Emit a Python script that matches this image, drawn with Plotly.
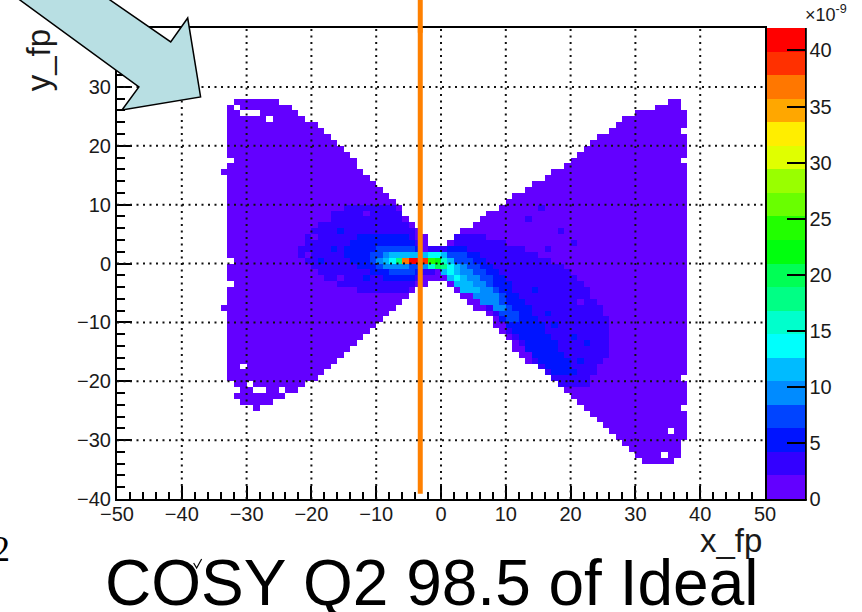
import numpy as np
import plotly.graph_objects as go

# ---------------------------------------------------------------------------
# Histogram definition: 1 x 1 bins, x_fp in [-50, 50), y_fp in [-40, 40)
# bin contents are given in units of 1e-9
# ---------------------------------------------------------------------------
X_MIN, X_MAX = -50, 50
Y_MIN, Y_MAX = -40, 40
Z_MAX = 42.0

# filled columns: lower x edge of the bin, lowest filled y edge, upper y edge
COL_X = list(range(-33, 38))
COL_BOT = [-20, -23, -24, -24, -25, -24, -24, -23, -23, -22, -22, -21, -20, -20, -19,
           -18, -17, -16, -15, -14, -13, -12, -11, -10, -9, -8, -7, -6, -5, -4,
           -4, -3, -3, -3, -4, -5, -6, -7, -8, -8, -9, -11, -12, -13, -15, -16, -17,
           -17, -18, -19, -20, -21, -22, -23, -24, -25, -26, -27, -28, -29, -30, -31,
           -32, -33, -34, -34, -34, -34, -34, -33, -30]
COL_TOP = [27, 28, 28, 28, 28, 28, 28, 28, 27, 27, 26, 25, 24, 24, 23,
           22, 21, 20, 19, 18, 16, 15, 14, 13, 12, 11, 10, 8, 7, 6,
           5, 3, 3, 3, 4, 5, 6, 6, 7, 8, 9, 9, 10, 11, 12, 12, 13,
           14, 14, 15, 16, 16, 17, 18, 19, 20, 21, 22, 22, 23, 24, 25,
           25, 26, 26, 26, 27, 27, 28, 28, 26]

BACKGROUND = 1.0
PROTRUSIONS = [(-34, 15), (-34, -8)]
HOLES = [(-32, 26), (-31, 25), (-30, 25), (-29, 25), (-27, 24), (-33, 17), (-33, 0),
         (-33, -4), (-31, -18), (-30, -21), (-29, -22), (-28, -22), (-25, -22),
         (-32, -22), (35, -29), (37, 17), (37, 22), (37, -20), (37, -25), (34, -33)]

# contents levels and the row spans (y, first x, last x) that carry them
LEVEL_1, LEVEL_2, LEVEL_3, LEVEL_4, LEVEL_5 = 3.2, 5.3, 7.4, 9.5, 11.6
SPANS_1 = [(9, -15, -8), (8, -17, -7), (7, -18, -7), (6, -19, -6), (5, -20, -5),
           (4, -21, -5), (3, -21, -4), (2, -22, -4), (1, -22, -4), (0, -21, -4),
           (-1, -20, -4), (-2, -19, -4), (-3, -18, -4), (-4, -16, -5), (-5, -13, -6),
           (2, -2, 0), (-2, -3, -2),
           (4, 2, 6), (3, 2, 9), (2, 2, 12), (1, 3, 14), (0, 3, 16), (-1, 3, 18),
           (-2, 3, 19), (-3, 3, 20), (-4, 4, 21), (-5, 5, 22), (-6, 5, 22),
           (-7, 6, 23), (-8, 7, 24), (-9, 8, 24), (-10, 9, 25), (-11, 10, 25),
           (-12, 10, 25), (-13, 11, 25), (-14, 12, 25), (-15, 13, 25), (-16, 14, 25),
           (-17, 14, 24), (-18, 15, 24), (-19, 16, 23), (-20, 17, 22), (-21, 18, 22)]
SPANS_2 = [(4, -13, -6), (3, -14, -5), (2, -15, -4), (1, -15, -4), (0, -14, -4),
           (-1, -13, -4), (-2, -11, -4), (-3, -9, -5),
           (2, 1, 3), (1, 2, 5), (0, 2, 6), (-1, 3, 7), (-2, 4, 8), (-3, 4, 9),
           (-4, 5, 10), (-5, 6, 10), (-6, 6, 11), (-7, 7, 12), (-8, 8, 13),
           (-9, 9, 13), (-10, 9, 14), (-11, 10, 15), (-12, 11, 15), (-13, 12, 16),
           (-14, 13, 17), (-15, 13, 17), (-16, 14, 18), (-17, 15, 19), (-18, 16, 19),
           (-19, 17, 20)]
SPANS_3 = [(2, -10, -5), (1, -11, -4), (0, -11, -4), (-1, -10, -4), (-2, -8, -5),
           (1, 1, 3), (0, 1, 4), (-1, 1, 5), (-2, 2, 6), (-3, 3, 7), (-4, 4, 7),
           (-5, 5, 8), (-6, 6, 9), (-7, 7, 9), (-8, 8, 10), (-9, 9, 11), (-10, 10, 11)]
SPANS_4 = [(1, -9, -5), (0, -10, -5), (-1, -9, -6),
           (-1, 1, 3), (-2, 1, 4), (-3, 2, 5), (-4, 3, 6), (-5, 4, 7), (-6, 5, 8),
           (-7, 6, 8), (-8, 8, 9)]
SPANS_5 = [(1, -8, -3), (0, -9, -8),
           (-2, 0, 2), (-3, 1, 3), (-4, 2, 4), (-5, 3, 5)]

# individual bins: (x, y, content)
SPECKLES = [(-18, 7, 1.0), (-20, 4, 1.0), (-16, -3, 1.0), (-12, 8, 1.0), (-21, 1, 1.0),
            (-17, 2, 5.3), (-16, 5, 5.3), (-19, 0, 5.3), (-12, -3, 5.3),
            (13, 7, 3.2), (15, 9, 3.2), (18, 5, 3.2), (16, 2, 3.2), (20, 3, 3.2),
            (17, -11, 5.3), (20, -13, 5.3), (22, -14, 5.3), (16, -9, 5.3),
            (14, -5, 5.3), (21, -17, 5.3), (23, -12, 3.2), (21, -7, 1.0), (24, -18, 1.0)]
HOT_CELLS = [(-8, 0, 13.7), (-7, 0, 17.9), (-6, 0, 36.8), (-5, 0, 41.0), (-4, 0, 41.0),
             (-3, 0, 39.0), (-2, 0, 24.0), (-1, 0, 21.0), (0, 0, 15.5), (1, 0, 12.0),
             (-2, 1, 13.7), (-1, 1, 14.0), (0, 1, 12.0), (-3, 1, 12.0),
             (-2, -1, 16.0), (-1, -1, 19.0), (0, -1, 17.0), (1, -1, 13.7), (2, -1, 11.0),
             (-3, -1, 10.0), (1, -2, 13.7), (2, -3, 13.0)]

# ROOT "pretty" palette, 20 contour levels
PALETTE = ["#6300ff", "#3300ff", "#0014ff", "#0044ff", "#008bff", "#00bbff", "#00fffc",
           "#00ffcc", "#00ff85", "#00ff55", "#00ff0e", "#22ff00", "#69ff00", "#99ff00",
           "#e0ff00", "#ffee00", "#ffa700", "#ff7700", "#ff3000", "#ff0000"]

X_TICKS = list(range(-50, 51, 10))
Y_TICKS = list(range(-40, 41, 10))
CUT_X = -3.2          # vertical cut line
CUT_Y_LOW = -39.1

# ---------------------------------------------------------------------------
nx, ny = X_MAX - X_MIN, Y_MAX - Y_MIN
z = np.full((ny, nx), np.nan)


def cell(x, y):
    return y - Y_MIN, x - X_MIN


for x, lo, hi in zip(COL_X, COL_BOT, COL_TOP):
    for y in range(lo, hi):
        z[cell(x, y)] = BACKGROUND
for x, y in PROTRUSIONS:
    z[cell(x, y)] = BACKGROUND
filled = ~np.isnan(z)

for level, spans in ((LEVEL_1, SPANS_1), (LEVEL_2, SPANS_2), (LEVEL_3, SPANS_3),
                     (LEVEL_4, SPANS_4), (LEVEL_5, SPANS_5)):
    for y, x0, x1 in spans:
        for x in range(x0, x1 + 1):
            if filled[cell(x, y)]:
                z[cell(x, y)] = level
for x, y, v in SPECKLES + HOT_CELLS:
    if filled[cell(x, y)]:
        z[cell(x, y)] = v
for x, y in HOLES:
    z[cell(x, y)] = np.nan

x_centers = np.arange(X_MIN, X_MAX) + 0.5
y_centers = np.arange(Y_MIN, Y_MAX) + 0.5

n = len(PALETTE)
colorscale = []
for k, c in enumerate(PALETTE):
    colorscale.append([k / n, c])
    colorscale.append([(k + 1) / n, c])

# page geometry
W, H = 862, 612
ML, MR, MT, MB = 117, 94, 28, 113
PW, PH = W - ML - MR, H - MT - MB


def page_x(px):
    return (px - ML) / PW


def page_y(py):
    return (H - MB - py) / PH


FONT = "Liberation Sans, Arial, sans-serif"
TICK_FONT = dict(family=FONT, size=20, color="#1a1a1a")
fig = go.Figure()
fig.add_trace(go.Heatmap(
    x=x_centers, y=y_centers, z=z, zmin=0, zmax=Z_MAX, colorscale=colorscale,
    hoverongaps=False, zsmooth=False,
    colorbar=dict(
        x=page_x(770), xanchor="left", xpad=0, y=0.5, yanchor="middle", ypad=0,
        len=1, lenmode="fraction", thickness=38, thicknessmode="pixels",
        outlinewidth=0, ticks="inside", ticklen=18, tickwidth=2, tickcolor="black",
        tick0=0, dtick=5, tickfont=TICK_FONT,
    ),
))

axis_common = dict(
    showgrid=False, zeroline=False, showline=True, linewidth=2, linecolor="black",
    mirror=True, ticks="inside", tickwidth=2, tickcolor="black", tickfont=TICK_FONT,
)
fig.update_xaxes(range=[X_MIN, X_MAX], tickvals=X_TICKS, ticklen=13,
                 ticklabelstandoff=-4,
                 minor=dict(dtick=2, ticks="inside", ticklen=7, tickwidth=1.5,
                            tickcolor="black", showgrid=False),
                 **axis_common)
fig.update_yaxes(range=[Y_MIN, Y_MAX], tickvals=Y_TICKS, ticklen=15,
                 minor=dict(dtick=2, ticks="inside", ticklen=8, tickwidth=1.5,
                            tickcolor="black", showgrid=False),
                 **axis_common)

shapes = []
# dotted grid drawn over the histogram
for gx in X_TICKS[1:-1]:
    shapes.append(dict(type="line", xref="x", yref="y", x0=gx, x1=gx, y0=Y_MIN, y1=Y_MAX,
                       line=dict(color="#111111", width=2, dash="2px,4.5px"), layer="above"))
for gy in Y_TICKS[1:-1]:
    shapes.append(dict(type="line", xref="x", yref="y", x0=X_MIN, x1=X_MAX, y0=gy, y1=gy,
                       line=dict(color="#111111", width=2, dash="2px,4.5px"), layer="above"))
# cut line, continued above the frame
shapes.append(dict(type="line", xref="x", yref="y", x0=CUT_X, x1=CUT_X, y0=CUT_Y_LOW,
                   y1=Y_MAX, line=dict(color="#ff8000", width=5), layer="above"))
shapes.append(dict(type="line", xref="x", yref="paper", x0=CUT_X, x1=CUT_X, y0=0.99,
                   y1=page_y(-5), line=dict(color="#ff8000", width=5), layer="above"))
# colorbar axis line on the right and bottom
shapes.append(dict(type="line", xref="paper", yref="paper", x0=page_x(809), x1=page_x(809),
                   y0=page_y(28), y1=page_y(500), line=dict(color="black", width=2)))
shapes.append(dict(type="line", xref="paper", yref="paper", x0=page_x(770), x1=page_x(810),
                   y0=page_y(500), y1=page_y(500), line=dict(color="black", width=2)))
# callout arrow
arrow_px = [(81, -20), (171, 42), (188, 18), (201, 97), (122, 110), (139, 87), (-8, -20)]
path = "M " + " L ".join(f"{page_x(a):.4f},{page_y(b):.4f}" for a, b in arrow_px) + " Z"
shapes.append(dict(type="path", xref="paper", yref="paper", path=path,
                   fillcolor="#b8dfe3", line=dict(color="black", width=1.5), layer="above"))
# small stroke over the caption
tick_px = [(194, 563), (197, 568), (202, 559)]
shapes.append(dict(type="path", xref="paper", yref="paper",
                   path="M " + " L ".join(f"{page_x(a):.4f},{page_y(b):.4f}" for a, b in tick_px),
                   line=dict(color="black", width=1.2), layer="above"))

annotations = [
    dict(text="x_fp", xref="paper", yref="paper", x=page_x(767), y=page_y(540),
         xanchor="right", yanchor="middle", showarrow=False,
         font=dict(family=FONT, size=33, color="#1a1a1a")),
    dict(text="y_fp", xref="paper", yref="paper", x=page_x(39), y=page_y(60),
         xanchor="center", yanchor="middle", textangle=-90, showarrow=False,
         font=dict(family=FONT, size=33, color="#1a1a1a")),
    dict(text="×10<sup>-9</sup>", xref="paper", yref="paper", x=page_x(806), y=page_y(13),
         xanchor="left", yanchor="middle", showarrow=False,
         font=dict(family=FONT, size=18, color="#1a1a1a")),
    dict(text="COSY Q2 98.5 of Ideal", xref="paper", yref="paper", x=page_x(433),
         y=page_y(583), xanchor="center", yanchor="middle", showarrow=False,
         font=dict(family=FONT, size=64, color="black")),
    dict(text="2", xref="paper", yref="paper", x=page_x(12), y=page_y(549),
         xanchor="right", yanchor="middle", showarrow=False,
         font=dict(family="Liberation Serif, Times New Roman, serif", size=36, color="black")),
]

fig.update_layout(
    width=W, height=H, margin=dict(l=ML, r=MR, t=MT, b=MB),
    paper_bgcolor="white", plot_bgcolor="white", showlegend=False,
    shapes=shapes, annotations=annotations,
)
fig.write_html("out.html")
